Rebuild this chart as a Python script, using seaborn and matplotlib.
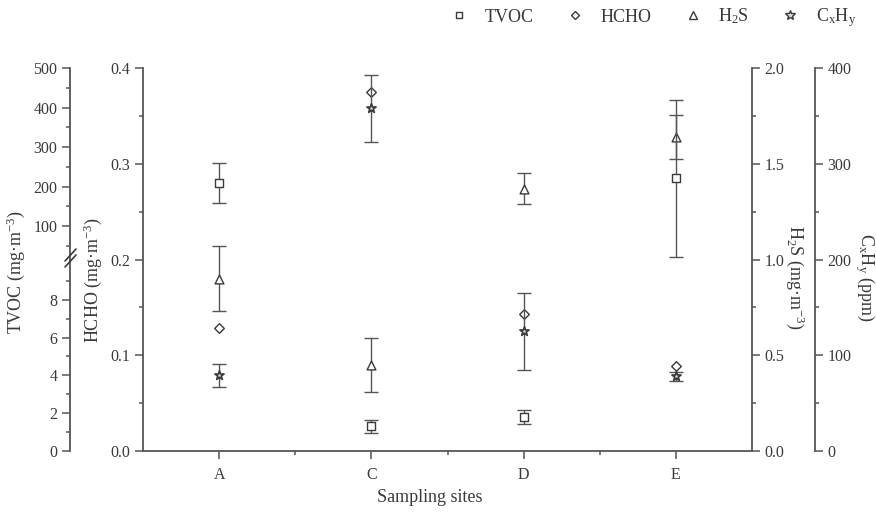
import numpy as np
import pandas as pd
import matplotlib
matplotlib.use("Agg")
import matplotlib.pyplot as plt
from matplotlib.lines import Line2D
from matplotlib.ticker import FixedLocator, MultipleLocator, FuncFormatter
import seaborn as sns

# ---- data ----
sites = ["A", "C", "D", "E"]
tvoc = [209, 1.3, 1.8, 221]
tvoc_err = [51, 0.35, 0.35, 198]
hcho = [0.128, 0.375, 0.143, 0.089]
h2s = [0.90, 0.45, 1.37, 1.64]
h2s_err = [0.17, 0.14, 0.08, 0.117]
cxhy = [79, 358, 125, 78]
cxhy_err = [12, 35, 40, 5]

sns.set_theme(style="ticks")
plt.rcParams["font.family"] = ["Liberation Serif", "DejaVu Serif"]
plt.rcParams["mathtext.default"] = "regular"

INK = "#3a3a3a"
LINE = "#555555"
TICK_FS = 11.5
LABEL_FS = 13

W, H = 876, 515
fig = plt.figure(figsize=(W / 100, H / 100), dpi=100)
left, right, bottom, top = 143, 752, 451, 68
ax = fig.add_axes([left / W, 1 - bottom / H, (right - left) / W, (bottom - top) / H])

x = np.arange(1, len(sites) + 1)
df = pd.DataFrame({"site": x, "tvoc": tvoc, "tvoc_err": tvoc_err, "hcho": hcho,
                   "h2s": h2s, "h2s_err": h2s_err, "cxhy": cxhy, "cxhy_err": cxhy_err})

ax_h = ax.twinx()   # H2S, right
ax_c = ax.twinx()   # CxHy, right outer
ax_t = ax.twinx()   # TVOC, left outer (broken scale)

# broken TVOC scale: 0-10 on the lower half, 10-500 on the upper half
def fwd(v):
    v = np.asarray(v, dtype=float)
    return np.where(v <= 10, v, 10 + (v - 10) * 10.25 / 490)

def inv(u):
    u = np.asarray(u, dtype=float)
    return np.where(u <= 10, u, 10 + (u - 10) * 490 / 10.25)

ax_t.set_yscale("function", functions=(fwd, inv))

mk = dict(facecolor="white", edgecolor=INK, linewidth=1.0, zorder=5)
eb = dict(fmt="none", ecolor=LINE, elinewidth=1.0, capsize=5, capthick=1.0, zorder=4)

ax_t.errorbar(df["site"], df["tvoc"], yerr=df["tvoc_err"], **eb)
sns.scatterplot(data=df, x="site", y="tvoc", marker="s", s=28, ax=ax_t, **mk)
sns.scatterplot(data=df, x="site", y="hcho", marker="D", s=24, ax=ax, **mk)
ax_h.errorbar(df["site"], df["h2s"], yerr=df["h2s_err"], **eb)
sns.scatterplot(data=df, x="site", y="h2s", marker="^", s=40, ax=ax_h, **mk)
ax_c.errorbar(df["site"], df["cxhy"], yerr=df["cxhy_err"], **eb)
sns.scatterplot(data=df, x="site", y="cxhy", marker="*", s=48,
                ax=ax_c, facecolor="#d8d8d8", edgecolor=INK, linewidth=1.2, zorder=5)

for a in (ax, ax_h, ax_c, ax_t):
    a.set_xlim(0.5, 4.5)
    a.set_xlabel("")
    a.set_ylabel("")
    for s in a.spines.values():
        s.set_visible(False)
        s.set_color(LINE)
        s.set_linewidth(1.3)
    a.tick_params(which="both", direction="out", colors=LINE, labelcolor=INK,
                  labelsize=TICK_FS, width=1.1)
    a.tick_params(which="major", length=5.5)
    a.tick_params(which="minor", length=3)

# main axes: HCHO on the left, x axis at bottom
ax.spines["left"].set_visible(True)
ax.spines["bottom"].set_visible(True)
ax.set_ylim(0, 0.4)
ax.yaxis.set_major_locator(MultipleLocator(0.1))
ax.yaxis.set_minor_locator(MultipleLocator(0.05))
ax.yaxis.set_major_formatter(FuncFormatter(lambda v, p: f"{v:.1f}"))
ax.set_xticks(x)
ax.set_xticklabels(sites)
ax.xaxis.set_minor_locator(FixedLocator([1.5, 2.5, 3.5]))
ax.tick_params(axis="x", pad=6)

# H2S
ax_h.spines["right"].set_visible(True)
ax_h.set_ylim(0, 2.0)
ax_h.yaxis.set_major_locator(MultipleLocator(0.5))
ax_h.yaxis.set_minor_locator(MultipleLocator(0.25))
ax_h.yaxis.set_major_formatter(FuncFormatter(lambda v, p: f"{v:.1f}"))

# CxHy
ax_c.spines["right"].set_visible(True)
ax_c.spines["right"].set_position(("outward", 63 * 0.72))
ax_c.set_ylim(0, 400)
ax_c.yaxis.set_major_locator(MultipleLocator(100))
ax_c.yaxis.set_minor_locator(MultipleLocator(50))
ax_c.tick_params(axis="y", which="both", left=False, labelleft=False)

# TVOC
ax_t.spines["left"].set_visible(True)
ax_t.spines["left"].set_position(("outward", 73 * 0.72))
ax_t.yaxis.set_ticks_position("left")
ax_t.yaxis.set_label_position("left")
ax_t.set_ylim(0, 500)
ax_t.yaxis.set_major_locator(FixedLocator([0, 2, 4, 6, 8, 100, 200, 300, 400, 500]))
ax_t.yaxis.set_minor_locator(FixedLocator([1, 3, 5, 7, 9, 50, 150, 250, 350, 450]))
ax_t.yaxis.set_major_formatter(FuncFormatter(lambda v, p: f"{v:.0f}"))

for a in (ax_h, ax_c, ax_t):
    a.tick_params(axis="x", which="both", bottom=False, labelbottom=False)

# break marks on the TVOC axis
for dy in (-3, 3):
    y0 = 1 - (258 + dy) / H
    fig.add_artist(Line2D([65 / W, 76 / W], [y0 - 6 / H, y0 + 6 / H],
                          color=INK, lw=1.2, transform=fig.transFigure))

# axis titles
fig.text(16 / W, 1 - 272 / H, "TVOC (mg·m$^{-3}$)", rotation=90, ha="center", va="center",
         fontsize=LABEL_FS, color=INK)
fig.text(93 / W, 1 - 280 / H, "HCHO (mg·m$^{-3}$)", rotation=90, ha="center", va="center",
         fontsize=LABEL_FS, color=INK)
fig.text(795 / W, 1 - 277 / H, "H$_2$S (mg·m$^{-3}$)", rotation=270, ha="center", va="center",
         fontsize=LABEL_FS, color=INK)
fig.text(865 / W, 1 - 277 / H, "C$_x$H$_y$ (ppm)", rotation=270, ha="center", va="center",
         fontsize=LABEL_FS, color=INK)
fig.text(430 / W, 1 - 497 / H, "Sampling sites", ha="center", va="center",
         fontsize=LABEL_FS, color=INK)

# legend
def h(m, s, fc="white"):
    return Line2D([], [], linestyle="none", marker=m, markersize=s,
                  markerfacecolor=fc, markeredgecolor=INK, markeredgewidth=1.0)

handles = [h("s", 5), h("D", 4.5), h("^", 6), h("*", 7, "#d8d8d8")]
labels = ["TVOC", "HCHO", "H$_2$S", "C$_x$H$_y$"]
fig.legend(handles, labels, loc="center", bbox_to_anchor=(653 / W, 1 - 18 / H), ncol=4,
           frameon=False, fontsize=LABEL_FS, labelcolor=INK, handlelength=1.0,
           handletextpad=0.9, columnspacing=1.8)

fig.savefig("out.png", dpi=100)
